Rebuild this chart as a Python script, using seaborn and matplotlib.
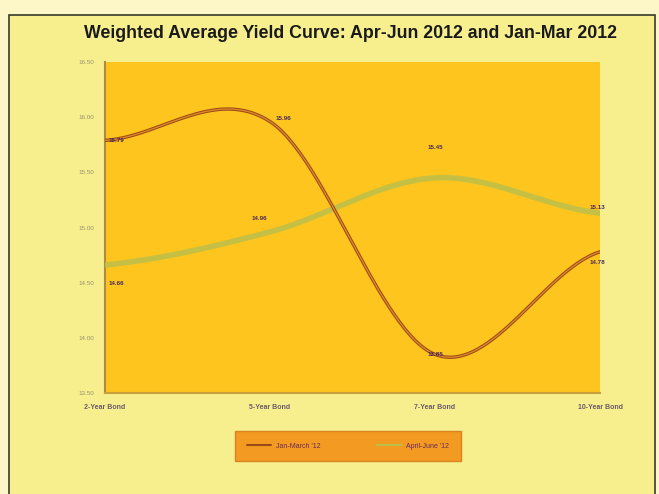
import numpy as np
import pandas as pd
import matplotlib
matplotlib.use("Agg")
import matplotlib.pyplot as plt
from matplotlib.patches import Rectangle
import seaborn as sns

categories = ["2-Year Bond", "5-Year Bond", "7-Year Bond", "10-Year Bond"]
jan_mar = [15.79, 15.96, 13.85, 14.78]
apr_jun = [14.66, 14.96, 15.45, 15.13]
series_names = ["Jan-March '12", "April-June '12"]
y_ticks = [13.50, 14.00, 14.50, 15.00, 15.50, 16.00, 16.50]
title = "Weighted Average Yield Curve: Apr-Jun 2012 and Jan-Mar 2012"

GREEN = "#BCC04A"
BG = "#F7EF8E"
PLOT_BG = "#FDC51E"


def smooth(vals, n=60):
    """Catmull-Rom curve through the data points (Excel-like smoothed line)."""
    p = np.asarray(vals, float)
    x = np.arange(len(p), dtype=float)
    pts = np.concatenate([[p[0]], p, [p[-1]]])
    xs, ys = [], []
    for i in range(len(p) - 1):
        p0, p1, p2, p3 = pts[i], pts[i + 1], pts[i + 2], pts[i + 3]
        m1 = (p2 - p0) / 2
        m2 = (p3 - p1) / 2
        t = np.linspace(0, 1, n, endpoint=(i == len(p) - 2))
        h00 = 2 * t**3 - 3 * t**2 + 1
        h10 = t**3 - 2 * t**2 + t
        h01 = -2 * t**3 + 3 * t**2
        h11 = t**3 - t**2
        ys.append(h00 * p1 + h10 * m1 + h01 * p2 + h11 * m2)
        xs.append(x[i] + t)
    return np.concatenate(xs), np.concatenate(ys)


sns.set_theme(style="white")
plt.rcParams["font.family"] = ["Liberation Sans", "DejaVu Sans"]

fig = plt.figure(figsize=(6.59, 4.94), dpi=100)
fig.patch.set_facecolor("#FDF7C8")
fig.patches.append(Rectangle((9 / 659, -0.01), 646 / 659, 1.01 - 15 / 494, transform=fig.transFigure,
                             facecolor=BG, edgecolor="#3A3A30", linewidth=1.2, zorder=-10))

ax = fig.add_axes([105 / 659, 1 - 393 / 494, 495 / 659, 331 / 494])
ax.set_zorder(2)
ax.set_facecolor(PLOT_BG)

frames = []
for name, vals in zip(series_names, [jan_mar, apr_jun]):
    xs, ys = smooth(vals)
    frames.append(pd.DataFrame({"x": xs, "y": ys, "series": name}))
df = pd.concat(frames, ignore_index=True)

sns.lineplot(data=df[df.series == series_names[1]], x="x", y="y", color=GREEN,
             linewidth=4, alpha=0.85, ax=ax, legend=False, sort=False, zorder=3)
sns.lineplot(data=df[df.series == series_names[0]], x="x", y="y", color="#9A4A18",
             linewidth=2.4, ax=ax, legend=False, sort=False, zorder=4)
sns.lineplot(data=df[df.series == series_names[0]], x="x", y="y", color="#E08A2A",
             linewidth=0.9, ax=ax, legend=False, sort=False, zorder=5)

# data labels
lab_kw = dict(fontsize=4.5, color="#4A2A5A", fontweight="bold", textcoords="offset points",
              ha="center", va="center", zorder=6)
red_off = [(8, 0), (10, 2), (0, 0), (-2, -8)]
green_off = [(8, -13), (-8, 10), (0, 22), (-2, 4)]
for i, v in enumerate(jan_mar):
    ax.annotate(f"{v:.2f}", (i, v), xytext=red_off[i], **lab_kw)
for i, v in enumerate(apr_jun):
    ax.annotate(f"{v:.2f}", (i, v), xytext=green_off[i], **lab_kw)

ax.set_xlim(0, len(categories) - 1)
ax.set_ylim(y_ticks[0], y_ticks[-1])
ax.set_xticks(range(len(categories)))
ax.set_xticklabels(categories, fontsize=5, color="#6A5A6A", fontweight="bold")
ax.set_yticks(y_ticks)
ax.set_yticklabels([f"{t:.2f}" for t in y_ticks], fontsize=4.5, color="#9A9070")
ax.tick_params(axis="x", pad=8, length=0)
ax.tick_params(axis="y", pad=8, length=0)
ax.set_xlabel("")
ax.set_ylabel("")
for s in ["top", "right"]:
    ax.spines[s].set_visible(False)
ax.spines["left"].set_color("#B08A40")
ax.spines["left"].set_linewidth(1.5)
ax.spines["bottom"].set_color("#C8A040")
ax.spines["bottom"].set_linewidth(1.5)

fig.text(351 / 659, 1 - 33 / 494, title, ha="center", va="center", fontsize=12.8,
         fontweight="bold", color="#1A1A1A")

handles = [plt.Line2D([], [], color="#9A4A18", lw=1.5),
           plt.Line2D([], [], color=GREEN, lw=1.5)]
leg = fig.legend(handles, series_names, loc="center", bbox_to_anchor=(348 / 659, 1 - 446 / 494),
                 ncol=2, fontsize=5, frameon=True, fancybox=False, handlelength=3.5,
                 columnspacing=8, borderpad=1.6, labelcolor="#6A2A5A")
leg.get_frame().set_facecolor("#F39A22")
leg.get_frame().set_edgecolor("#D88420")
leg.get_frame().set_alpha(1)

fig.savefig("out.png", dpi=100, facecolor=fig.get_facecolor())
